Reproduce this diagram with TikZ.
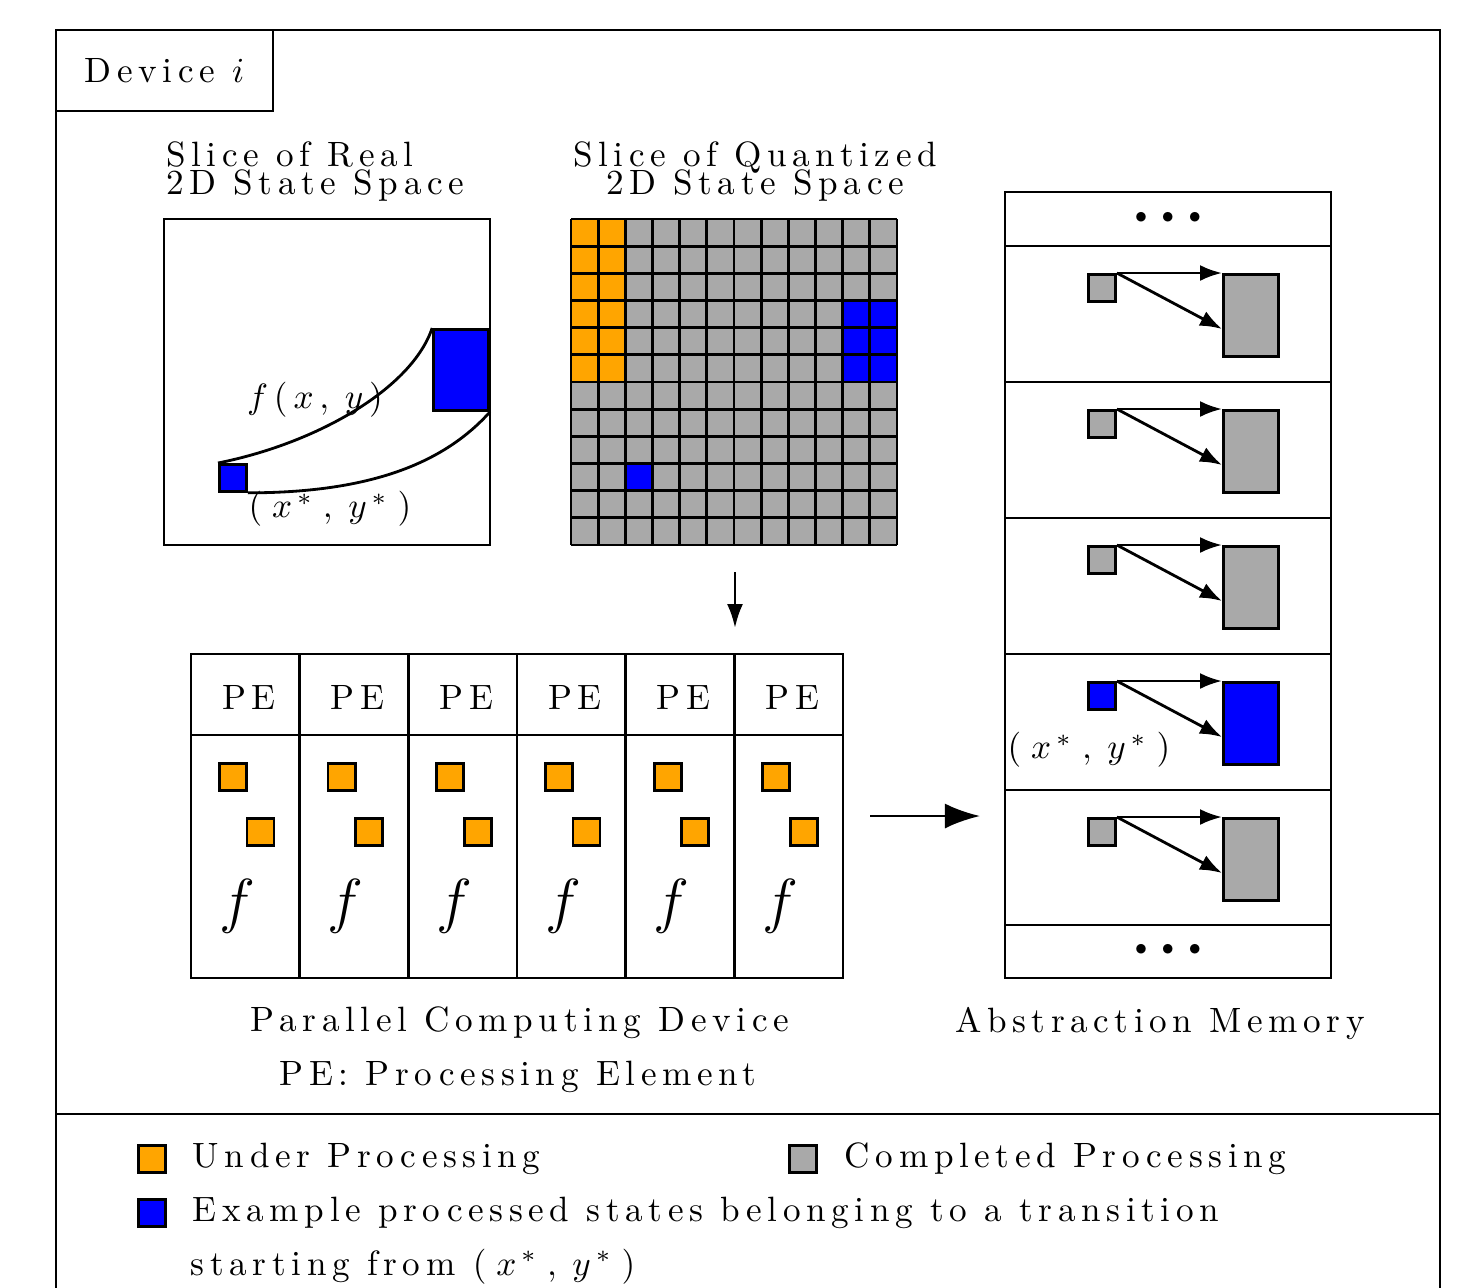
\documentclass[tikz,border=0pt]{standalone}
\usepackage{fontspec}
\setmainfont{lmroman10-regular.otf}[
    LetterSpace=16,
    ItalicFont=lmroman10-italic.otf,
    BoldFont=lmroman10-bold.otf]
\usetikzlibrary{positioning}
\usetikzlibrary{arrows.meta}
\usetikzlibrary{calc}
\definecolor{procorange}{HTML}{FFA500}
\definecolor{donegray}{HTML}{A9A9A9}
\definecolor{exblue}{HTML}{0000FF}
\newcommand{\tighttitle}{\fontsize{10}{8}\selectfont\lineskiplimit -20pt\relax}
\newcommand{\xystar}{$(\;x^{\,*}\;,\;y^{\,*}\;)$}
\tikzset{
    cell/.style={
        draw,
        inner sep=0pt,
        minimum size=0.27cm},
    target/.style={
        draw,
        inner sep=0pt,
        minimum width=0.55cm,
        minimum height=0.82cm},
    title/.style={
        align=left,
        inner sep=0pt,
        font=\tighttitle},
    memarrow/.style={
        -{Latex[length=2.2mm,width=1.6mm]}}}

\begin{document}
\begin{tikzpicture}[x=0.01cm,y=-0.01cm,line width=0.8pt]
        \useasboundingbox (0,0) rectangle (1461,1287);
        % frame of the device
        \draw (56,30) rectangle (1440,1330);
        \draw (56,1114) -- (1440,1114);
        \node[draw, inner sep=0pt, minimum width=2.17cm, minimum height=0.81cm] (devlbl) at (164.5,70.5) {Device $i$};

        % real state space
        \node[title, anchor=north west] (realtitle) at (165,140) {Slice of Real\\2D State Space};
        \draw (164,219) rectangle (490,545);
        \node[cell, fill=exblue, anchor=north west] (xstar) at (218,463) {};
        \node[target, fill=exblue, minimum height=0.81cm, anchor=north east] (fimg) at (490,328) {};
        \draw (xstar.north west) .. controls +(100,-20) and +(-20,60) .. (fimg.north west);
        \draw (xstar.south east) .. controls +(125,0) and +(-45,50) .. (fimg.south east);
        \node (flbl) at (315,400) {$f\,(\,x\,,\;y\,)$};
        \node (xlbl) at (330,509) {\xystar};

        % quantized state space
        \node[title, align=center, anchor=north] (quanttitle) at (755,140) {Slice of Quantized\\2D State Space};
        \fill[donegray] (571,219) rectangle (897,545);
        \fill[procorange] (571,219) rectangle (625.33,382);
        \fill[exblue] (842.67,300.5) rectangle (897,382);
        \fill[exblue] (625.33,463.5) rectangle (652.5,490.67);
        \foreach \i in {0,...,12} {
            \draw (571+27.1667*\i,219) -- (571+27.1667*\i,545);
            \draw (571,219+27.1667*\i) -- (897,219+27.1667*\i);
        }
        \coordinate (quantout) at (735,572);
        \coordinate (pcdin) at (735,628);
        \draw[-{Latex[length=2.4mm,width=1.6mm]}] (quantout) -- (pcdin);

        % parallel computing device
        \draw (191,654) rectangle (843,978);
        \draw (191,735) -- (843,735);
        \foreach \k in {1,...,5}
            \draw (191+108.67*\k,654) -- (191+108.67*\k,978);
        \foreach \k in {0,...,5} {
            \node (pe\k) at (249+108.67*\k,697) {PE};
            \node[cell, fill=procorange, anchor=north west] (pa\k) at (218+108.67*\k,762) {};
            \node[cell, fill=procorange, anchor=north west] (pb\k) at (245.5+108.67*\k,817) {};
            \node[font=\LARGE] (pf\k) at (237+108.67*\k,906) {$f$};
        }
        \node (pcd) at (520,1023) {Parallel Computing Device};
        \node (pedef) at (518,1077) {PE: Processing Element};
        \coordinate (pcdout) at (870,816);
        \coordinate (memin) at (980,816);
        \draw[-{Latex[length=3.5mm,width=2.5mm]}] (pcdout) -- (memin);

        % abstraction memory
        \draw (1005,192) rectangle (1331,978);
        \foreach \t in {246,382,518,654,790,925}
            \draw (1005,\t) -- (1331,\t);
        \node (topdots) at (1168,217) {\fontsize{6.5}{7}\selectfont$\bullet\;\bullet\;\bullet$};
        \node (botdots) at (1168,949) {\fontsize{6.5}{7}\selectfont$\bullet\;\bullet\;\bullet$};
        \foreach \t/\c [count=\n] in {246/donegray,382/donegray,518/donegray,654/exblue,790/donegray} {
            \node[cell, fill=\c, anchor=north west] (src\n) at (1087,\t+27) {};
            \node[target, fill=\c, anchor=north west] (dst\n) at (1222,\t+27) {};
            \draw[memarrow] (src\n.north east) -- (dst\n.north west);
            \draw[memarrow] (src\n.north east) -- ($(dst\n.north west)!0.66!(dst\n.south west)$);
        }
        \node (memx) at (1089,750) {\xystar};
        \node (amem) at (1160,1023) {Abstraction Memory};

        % legend
        \node[cell, fill=procorange, anchor=north west] (lgorange) at (137,1144) {};
        \node[right=0.13cm of lgorange] (lgorangetxt) {Under Processing};
        \node[cell, fill=donegray, anchor=north west] (lggray) at (788,1144) {};
        \node[right=0.14cm of lggray] (lggraytxt) {Completed Processing};
        \node[cell, fill=exblue, anchor=north west] (lgblue) at (137,1198) {};
        \node[right=0.13cm of lgblue] (lgbluetxt) {Example processed states belonging to a transition};
        \node[anchor=base west] (lgbluetxt2) at ($(lgbluetxt.base west)+(-2,54)$) {starting from \xystar};
    \end{tikzpicture}
\end{document}
